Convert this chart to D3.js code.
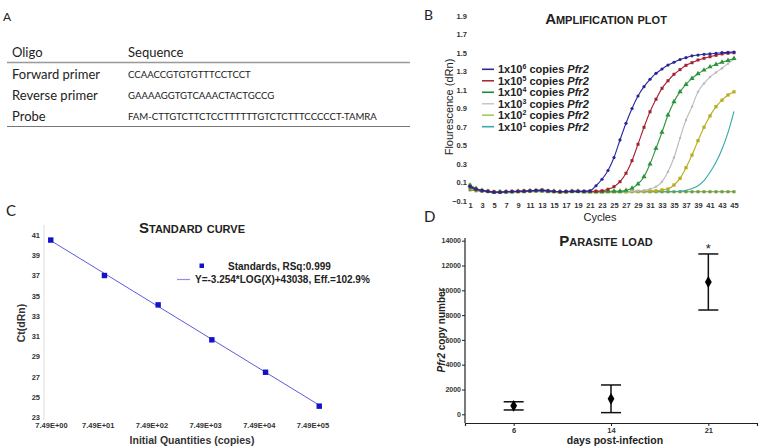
<!DOCTYPE html>
<html>
<head>
<meta charset="utf-8">
<script src="https://cdn.jsdelivr.net/npm/d3@7"></script>
<style>
  body { margin: 0; background: #fff; }
  svg { display: block; }
  text { font-family: "Liberation Sans", Arial, sans-serif; fill: #222; }
  .lato text, text.lato { font-family: Lato, "Open Sans", sans-serif; }
  .tick text { font-weight: bold; font-size: 7.5px; fill: #333; }
  .title { font-weight: bold; font-variant: small-caps; font-size: 15px; }
</style>
</head>
<body>
<svg width="760" height="448"></svg>
<script>
// ---- panel A: oligos ----
var oligoNames = ["Forward primer", "Reverse primer", "Probe"];
var oligoSeqs = ["CCAACCGTGTGTTTCCTCCT", "GAAAAGGTGTCAAACTACTGCCG",
                 "FAM-CTTGTCTTCTCCTTTTTTGTCTCTTTCCCCCT-TAMRA"];

// ---- panel B: amplification plot ----
var cycles = [1,2,3,4,5,6,7,8,9,10,11,12,13,14,15,16,17,18,19,20,21,22,23,24,25,
              26,27,28,29,30,31,32,33,34,35,36,37,38,39,40,41,42,43,44,45];
var amp1e6 = [0.06,0.03,0.015,0.005,-0.005,-0.005,0,0,0.005,0.005,0.01,0.015,0.015,0.01,0.005,0,0.005,0.005,0.005,0.005,
              0.01,0.065,0.135,0.23,0.37,0.56,0.74,0.90,1.035,1.136,1.216,1.28,1.327,1.37,1.40,1.43,1.45,1.47,1.478,1.486,
              1.49,1.497,1.503,1.507,1.51];
var amp1e5 = [0.05,0.025,0.01,0.005,0,-0.005,0,0.005,0.005,0.01,0.01,0.015,0.02,0.01,0.005,0,0,0.005,0.005,0.005,
              0.005,0.005,0.01,0.027,0.055,0.109,0.20,0.336,0.513,0.697,0.865,1.0,1.118,1.2,1.27,1.32,1.367,1.395,1.424,1.443,
              1.46,1.475,1.49,1.497,1.503];
var amp1e4 = [0.07,0.035,0.015,0.005,-0.005,0,0,0,0.005,0.005,0.01,0.01,0.01,0.005,0.005,0,0,0.005,0.005,0,
              0,0,0,0.005,0.005,0.005,0.015,0.037,0.084,0.163,0.30,0.47,0.643,0.83,0.974,1.08,1.16,1.225,1.275,1.315,
              1.35,1.375,1.40,1.42,1.44];
var amp1e3 = [0.05,0.03,0.01,0,-0.005,-0.005,0,0,0.005,0.005,0.005,0.01,0.01,0.005,0,0,0,0.005,0.005,0,
              0,0,0,0,0.005,0.005,0.005,0.005,0.01,0.015,0.03,0.055,0.109,0.217,0.37,0.58,0.776,0.92,1.08,1.17,
              1.24,1.29,1.335,1.385,1.435];
var amp1e2 = [0.07,0.035,0.015,0.005,-0.005,-0.005,-0.005,0,0,0.005,0.005,0.01,0.01,0.005,0,-0.005,0,0.005,0.005,0,
              0,0,0,0,0,0,0,0.005,0.005,0.005,0.01,0.01,0.02,0.03,0.073,0.145,0.26,0.397,0.552,0.697,
              0.82,0.92,0.99,1.046,1.08];
var amp1e1 = [0.04,0.02,0.01,0,-0.005,-0.005,0,0,0,0.005,0.005,0.005,0.005,0.005,0,0,0,0,0,0,
              0,0,0,0,0,0,0,0,0,0,0,0,0,0,0,0.005,0.015,0.035,0.065,0.12,
              0.21,0.32,0.46,0.64,0.87];
var ampNtc = [0.02,0.01,0.005,0,-0.005,-0.005,0,0,0,0,0.005,0.005,0.005,0,0,0,0,0,0,0,
              0,0,0,0,0,0,0,0,0,0,0,0,0,0,0,0,0,0,0,0,
              0,0,0,0,0];
var ampTicksY = [-0.1,0.1,0.3,0.5,0.7,0.9,1.1,1.3,1.5,1.7,1.9];
var ampTicksX = [1,3,5,7,9,11,13,15,17,19,21,23,25,27,29,31,33,35,37,39,41,43,45];
var ampExp = ["6","5","4","3","2","1"];

// ---- panel C: standard curve ----
var stdQty = [10, 100, 1000, 10000, 100000, 1000000];
var stdCt = [40.5, 37.0, 34.1, 30.65, 27.45, 24.1];
var fitQty = [10, 1000000];
var fitCt = [40.45, 24.2];
var stdTicksX = [7.49, 74.9, 749, 7490, 74900, 749000];
var stdTickLabels = ["7.49E+00","7.49E+01","7.49E+02","7.49E+03","7.49E+04","7.49E+05"];
var stdTicksY = [23,25,27,29,31,33,35,37,39,41];

// ---- panel D: parasite load ----
var days = ["6", "14", "21"];
var loadMean = [680, 1250, 10670];
var loadErr = [330, 1115, 2260];
var loadTicksY = [0,2000,4000,6000,8000,10000,12000,14000];

var svg = d3.select("svg");

function panelLetter(t, x, y, size) {
    svg.append("text").attr("class", "lato").attr("x", x).attr("y", y)
        .style("font-size", size + "px").text(t);
}

// ================= A =================
panelLetter("A", 3, 21, 12);
var gA = svg.append("g").attr("class", "lato");
gA.append("text").attr("x", 12).attr("y", 57).style("font-size", "13px").text("Oligo");
gA.append("text").attr("x", 128).attr("y", 57).style("font-size", "13px").text("Sequence");
gA.append("line").attr("x1", 7).attr("x2", 410).attr("y1", 62.5).attr("y2", 62.5)
    .attr("stroke", "#999").attr("stroke-width", 1.3);
var rowY = d3.scalePoint().domain(oligoNames).range([78.5, 120.5]);
gA.selectAll(".oname").data(oligoNames).enter().append("text")
    .attr("x", 12).attr("y", d => rowY(d)).style("font-size", "13px").text(d => d);
gA.selectAll(".oseq").data(oligoSeqs).enter().append("text")
    .attr("x", 128).attr("y", (d, i) => rowY(oligoNames[i]) - 0.5)
    .style("font-size", "9.6px").text(d => d);
gA.append("line").attr("x1", 7).attr("x2", 410).attr("y1", 126.5).attr("y2", 126.5)
    .attr("stroke", "#777").attr("stroke-width", 1);

// ================= B =================
panelLetter("B", 424, 20, 14);
var xB = d3.scaleLinear().domain([1, 45]).range([470, 734]);
var yB = d3.scaleLinear().domain([-0.1, 1.9]).range([201, 16]);
var gB = svg.append("g");

gB.append("g").attr("transform", "translate(470,0)")
    .call(d3.axisLeft(yB).tickValues(ampTicksY).tickSize(0).tickPadding(3).tickFormat(d3.format(".1f")))
    .call(g => g.select(".domain").remove());
gB.append("g").attr("transform", "translate(0,201)")
    .call(d3.axisBottom(xB).tickValues(ampTicksX).tickSize(0).tickPadding(2))
    .call(g => g.select(".domain").remove());

gB.append("text").attr("class", "title").attr("x", 606).attr("y", 24)
    .attr("text-anchor", "middle").text("Amplification plot");
gB.append("text").attr("x", 600).attr("y", 221).attr("text-anchor", "middle")
    .style("font-size", "11px").text("Cycles");
gB.append("text").attr("transform", "translate(453,107) rotate(-90)")
    .attr("text-anchor", "middle").style("font-size", "11px").text("Flourescence (dRn)");

var ampSeries = [
    { v: ampNtc, color: "#6d9a3a", marker: "square", size: 3 },
    { v: amp1e1, color: "#35a8a8", marker: null },
    { v: amp1e2, color: "#b7ab1e", marker: "square", size: 3.2 },
    { v: amp1e3, color: "#b9b9b9", marker: "circle", size: 1.2 },
    { v: amp1e4, color: "#2a9438", marker: "triangle", size: 2.4 },
    { v: amp1e5, color: "#a3202e", marker: "square", size: 3 },
    { v: amp1e6, color: "#27279a", marker: "circle", size: 1.6 }
];
var lineB = d3.line().x((d, i) => xB(cycles[i])).y(d => yB(d)).curve(d3.curveMonotoneX);
ampSeries.forEach(function (s) {
    gB.append("path").datum(s.v).attr("d", lineB)
        .attr("fill", "none").attr("stroke", s.color).attr("stroke-width", 1.1);
    if (!s.marker) return;
    var m = gB.append("g").selectAll("x").data(s.v).enter();
    if (s.marker === "circle") {
        m.append("circle").attr("cx", (d, i) => xB(cycles[i])).attr("cy", d => yB(d))
            .attr("r", s.size).attr("fill", s.color);
    } else if (s.marker === "square") {
        m.append("rect").attr("x", (d, i) => xB(cycles[i]) - s.size / 2).attr("y", d => yB(d) - s.size / 2)
            .attr("width", s.size).attr("height", s.size).attr("fill", s.color);
    } else {
        m.append("path").attr("transform", (d, i) => "translate(" + xB(cycles[i]) + "," + yB(d) + ")")
            .attr("d", d3.symbol(d3.symbolTriangle, s.size * s.size * 2)).attr("fill", s.color);
    }
});

// legend
var legColors = ["#2b2b8f", "#a52a35", "#22883a", "#c8c8c8", "#a6c85c", "#3aa8a8"];
var legY = d3.scalePoint().domain(ampExp).range([69.3, 126.7]);
var leg = gB.selectAll(".leg").data(ampExp).enter().append("g")
    .attr("transform", d => "translate(0," + legY(d) + ")");
leg.append("line").attr("x1", 482).attr("x2", 494)
    .attr("stroke", (d, i) => legColors[i]).attr("stroke-width", 1.6);
var lt = leg.append("text").attr("x", 498).attr("dy", "0.36em")
    .style("font-size", "11px").style("font-weight", "bold");
lt.append("tspan").text("1x10");
lt.append("tspan").attr("dy", -4).style("font-size", "7px").text(d => d);
lt.append("tspan").attr("dy", 4).text(" copies ");
lt.append("tspan").style("font-style", "italic").text("Pfr2");

// ================= C =================
panelLetter("C", 6, 216, 15);
var xC = d3.scaleLog().domain([7.49, 749000]).range([44, 312.5]);
var yC = d3.scaleLinear().domain([23, 41]).range([417.3, 235]);
var gC = svg.append("g");
gC.append("line").attr("x1", 44).attr("x2", 44).attr("y1", 225).attr("y2", 420)
    .attr("stroke", "#ddd");
gC.append("g").attr("transform", "translate(44,0)")
    .call(d3.axisLeft(yC).tickValues(stdTicksY).tickSize(0).tickPadding(4))
    .call(g => g.select(".domain").remove());
gC.append("g").attr("transform", "translate(0,421)")
    .call(d3.axisBottom(xC).tickValues(stdTicksX).tickSize(0).tickPadding(2)
        .tickFormat((d, i) => stdTickLabels[i]))
    .call(g => g.select(".domain").remove())
    .call(g => g.select(".tick text").attr("dx", 7));
gC.append("text").attr("class", "title").attr("x", 192).attr("y", 233)
    .attr("text-anchor", "middle").text("Standard curve");
gC.append("text").attr("x", 192).attr("y", 444).attr("text-anchor", "middle")
    .style("font-size", "10.5px").style("font-weight", "bold").style("fill", "#333")
    .text("Initial Quantities (copies)");
gC.append("text").attr("transform", "translate(25,323) rotate(-90)").attr("text-anchor", "middle")
    .style("font-size", "10.5px").style("font-weight", "bold").style("fill", "#333").text("Ct(dRn)");

var lineC = d3.line().x((d, i) => xC(fitQty[i])).y(d => yC(d));
gC.append("path").datum(fitCt).attr("d", lineC).attr("fill", "none")
    .attr("stroke", "#5c5cdc").attr("stroke-width", 1);
gC.selectAll(".pt").data(stdCt).enter().append("rect")
    .attr("x", (d, i) => xC(stdQty[i]) - 2.7).attr("y", d => yC(d) - 2.7)
    .attr("width", 5.4).attr("height", 5.4).attr("fill", "#1212c8");
gC.append("rect").attr("x", 199.5).attr("y", 263.5).attr("width", 4.5).attr("height", 4.5).attr("fill", "#1212c8");
gC.append("text").attr("x", 228).attr("y", 266).attr("dy", "0.36em")
    .style("font-size", "10px").style("font-weight", "bold").text("Standards, RSq:0.999");
gC.append("line").attr("x1", 177).attr("x2", 190).attr("y1", 279.5).attr("y2", 279.5)
    .attr("stroke", "#8f8fe6").attr("stroke-width", 1.2);
gC.append("text").attr("x", 195).attr("y", 279.5).attr("dy", "0.36em")
    .style("font-size", "10px").style("font-weight", "bold").text("Y=-3.254*LOG(X)+43038, Eff.=102.9%");

// ================= D =================
panelLetter("D", 424, 222, 15);
var xD = d3.scalePoint().domain(days).range([465, 757]).padding(0.5);
var yD = d3.scaleLinear().domain([0, 14000]).range([414.3, 240.7]);
var gD = svg.append("g");
gD.append("g").attr("transform", "translate(465,0)")
    .call(d3.axisLeft(yD).tickValues(loadTicksY).tickSize(3).tickPadding(1).tickFormat(d3.format("d")))
    .call(g => g.select(".domain").remove())
    .call(g => g.selectAll(".tick text").style("font-size", "7px"))
    .call(g => g.selectAll(".tick line").attr("stroke", "#222"));
gD.append("line").attr("x1", 465).attr("x2", 465).attr("y1", 238).attr("y2", 423)
    .attr("stroke", "#222").attr("stroke-width", 1.2);
gD.append("g").attr("transform", "translate(0,423)")
    .call(d3.axisBottom(xD).tickSize(3).tickPadding(2))
    .call(g => g.select(".domain").attr("stroke", "#222").attr("stroke-width", 1.2))
    .call(g => g.selectAll(".tick line").attr("stroke", "#222"));
gD.append("text").attr("class", "title").attr("x", 606).attr("y", 246)
    .attr("text-anchor", "middle").text("Parasite load");
gD.append("text").attr("x", 615).attr("y", 444).attr("text-anchor", "middle")
    .style("font-size", "10.5px").style("font-weight", "bold").text("days post-infection");
var yl = gD.append("text").attr("transform", "translate(445,330) rotate(-90)").attr("text-anchor", "middle")
    .style("font-size", "10px").style("font-weight", "bold");
yl.append("tspan").style("font-style", "italic").text("Pfr2");
yl.append("tspan").text(" copy number");

var eb = gD.selectAll(".eb").data(loadMean).enter().append("g")
    .attr("transform", (d, i) => "translate(" + xD(days[i]) + ",0)");
eb.append("line").attr("y1", (d, i) => yD(d - loadErr[i])).attr("y2", (d, i) => yD(d + loadErr[i]))
    .attr("stroke", "#111").attr("stroke-width", 1.5);
eb.append("line").attr("x1", -10).attr("x2", 10)
    .attr("y1", (d, i) => yD(d + loadErr[i])).attr("y2", (d, i) => yD(d + loadErr[i]))
    .attr("stroke", "#111").attr("stroke-width", 1.5);
eb.append("line").attr("x1", -10).attr("x2", 10)
    .attr("y1", (d, i) => yD(d - loadErr[i])).attr("y2", (d, i) => yD(d - loadErr[i]))
    .attr("stroke", "#111").attr("stroke-width", 1.5);
eb.append("path").attr("transform", d => "translate(0," + yD(d) + ")")
    .attr("d", d3.symbol(d3.symbolDiamond, 40)).attr("fill", "#000");
gD.append("text").attr("x", xD("21")).attr("y", yD(loadMean[2] + loadErr[2]) - 1)
    .attr("text-anchor", "middle").style("font-size", "13px").text("*");
</script>
</body>
</html>
